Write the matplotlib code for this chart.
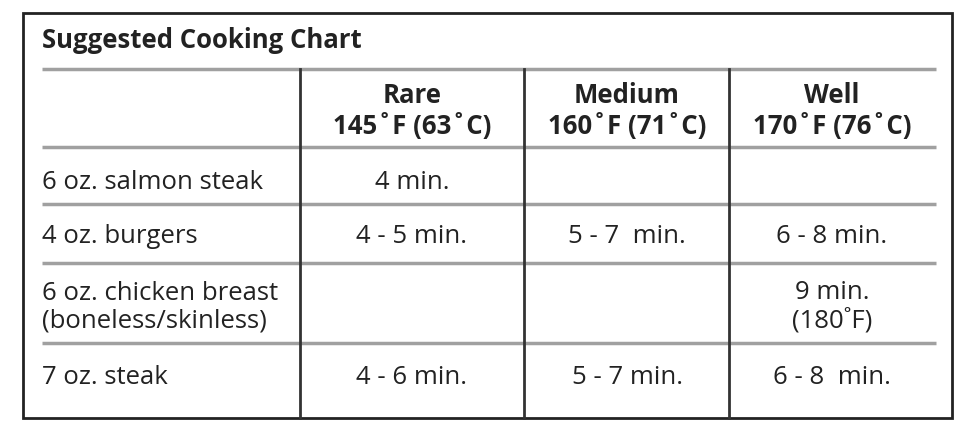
import matplotlib
matplotlib.use("Agg")
import matplotlib.pyplot as plt

title = "Suggested Cooking Chart"
columns = ["Rare\n145˚F (63˚C)", "Medium\n160˚F (71˚C)", "Well\n170˚F (76˚C)"]
rows = ["6 oz. salmon steak", "4 oz. burgers", "6 oz. chicken breast\n(boneless/skinless)", "7 oz. steak"]
cells = [
    ["4 min.", "", ""],
    ["4 - 5 min.", "5 - 7  min.", "6 - 8 min."],
    ["", "", "9 min.\n(180˚F)"],
    ["4 - 6 min.", "5 - 7 min.", "6 - 8  min."],
]

plt.rcParams['font.family'] = ['Open Sans', 'DejaVu Sans']
fig = plt.figure(figsize=(9.75, 4.35), dpi=100)
ax = fig.add_axes([0, 0, 1, 1])
ax.set_xlim(0, 975); ax.set_ylim(435, 0); ax.axis('off')

FS = 18.5
ax.add_patch(plt.Rectangle((23, 14), 929, 405, fill=False, lw=2, ec='#222'))
ax.text(42, 41, title, fontsize=FS, fontweight='bold', va='center', ha='left', color='#222')

hy = [70, 148, 205, 264, 344]
for y in hy:
    ax.plot([42, 936], [y, y], color='#a0a0a0', lw=2.5, solid_capstyle='butt')
vx = [300, 524, 729]
for x in vx:
    ax.plot([x, x], [70, 419], color='#333', lw=2)

col_centers = [412, 627, 832]
for c, t in zip(col_centers, columns):
    ax.text(c, 111, t, fontsize=FS, fontweight='bold', ha='center', va='center',
            color='#222', linespacing=1.15)

row_y = [183, 237, 307, 378]
for i, (r, yc) in enumerate(zip(rows, row_y)):
    ax.text(42, yc, r, fontsize=FS, ha='left', va='center', color='#222', linespacing=1.15)
    for c, t in zip(col_centers, cells[i]):
        if t:
            ax.text(c, yc, t, fontsize=FS, ha='center', va='center', color='#222', linespacing=1.15)

fig.savefig("out.png", dpi=100)
